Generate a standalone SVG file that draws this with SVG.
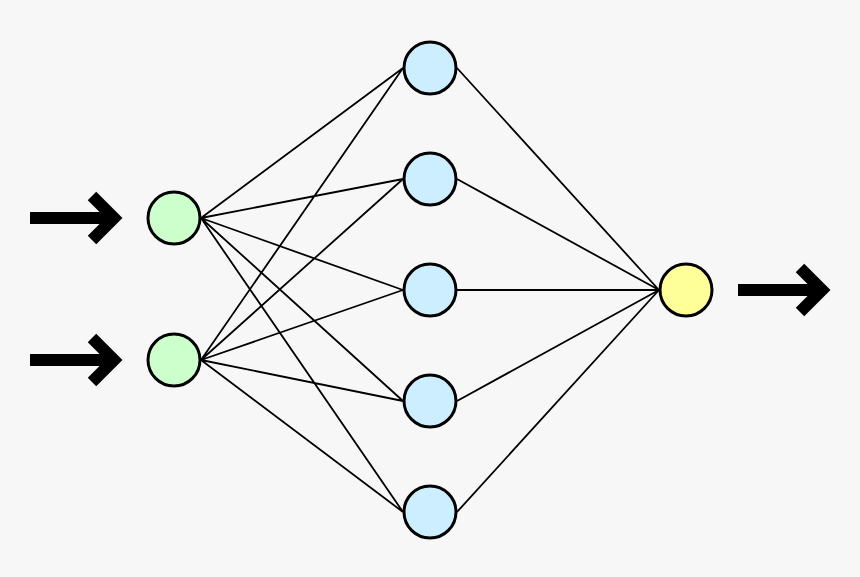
<svg xmlns="http://www.w3.org/2000/svg" width="860" height="577" viewBox="0 0 860 577">
<style>
.bg{fill:#f7f7f7}
.e{stroke:#000;stroke-width:1.8;fill:none}
.n{stroke:#000;stroke-width:3}
.in{fill:#ccffcc}
.hid{fill:#cceeff}
.out{fill:#ffff99}
.ar{stroke:#000;stroke-width:12;fill:none;stroke-linejoin:miter;stroke-miterlimit:10}
</style>
<rect class="bg" width="860" height="577"/>
<g id="connectors">
<path class="e" d="M201,218L403,68M201,218L403,179M201,218L403,290M201,218L403,401M201,218L403,512M201,360L403,68M201,360L403,179M201,360L403,290M201,360L403,401M201,360L403,512M457,68L659,290M457,179L659,290M457,290L659,290M457,401L659,290M457,512L659,290"/>
<path class="ar" d="M30,218H112M92,196L114,218L92,240"/>
<path class="ar" d="M30,360H112M92,338L114,360L92,382"/>
<path class="ar" d="M738,290H820M800,268L822,290L800,312"/>
</g>
<g id="in1"><circle class="n in" cx="174" cy="218" r="26"/></g>
<g id="in2"><circle class="n in" cx="174" cy="360" r="26"/></g>
<g id="h1"><circle class="n hid" cx="430" cy="68" r="26"/></g>
<g id="h2"><circle class="n hid" cx="430" cy="179" r="26"/></g>
<g id="h3"><circle class="n hid" cx="430" cy="290" r="26"/></g>
<g id="h4"><circle class="n hid" cx="430" cy="401" r="26"/></g>
<g id="h5"><circle class="n hid" cx="430" cy="512" r="26"/></g>
<g id="out"><circle class="n out" cx="686" cy="290" r="26"/></g>
</svg>
